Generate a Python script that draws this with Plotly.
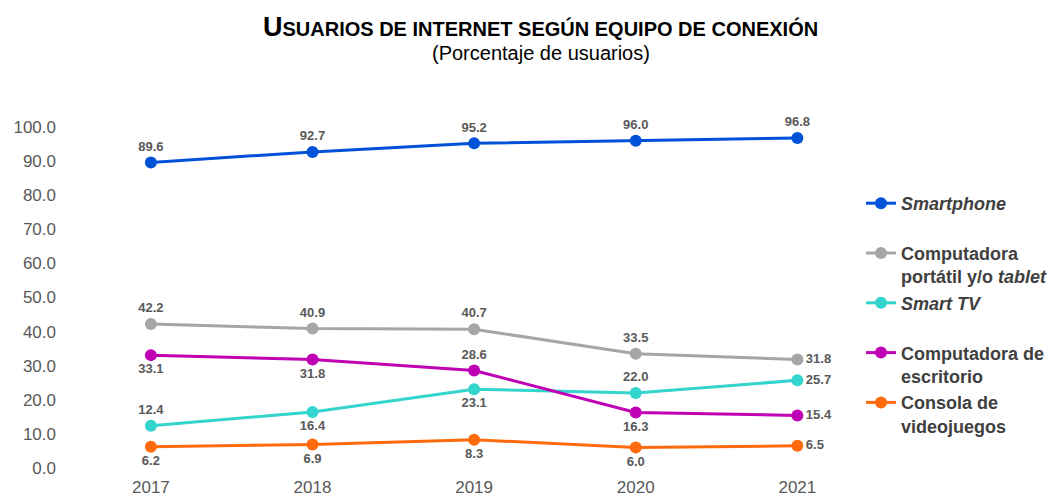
import plotly.graph_objects as go

years = [2017, 2018, 2019, 2020, 2021]
smartphone = [89.6, 92.7, 95.2, 96.0, 96.8]
portatil = [42.2, 40.9, 40.7, 33.5, 31.8]
smart_tv = [12.4, 16.4, 23.1, 22.0, 25.7]
escritorio = [33.1, 31.8, 28.6, 16.3, 15.4]
consola = [6.2, 6.9, 8.3, 6.0, 6.5]

names = [
    "<b><i>Smartphone</i></b><br> ",
    "<b>Computadora<br>portátil y/o <i>tablet</i></b>",
    "<b><i>Smart TV</i></b><br> ",
    "<b>Computadora de<br>escritorio</b>",
    "<b>Consola de<br>videojuegos</b>",
]
colors = ["#0052D9", "#A6A6A6", "#33D4CE", "#C000B4", "#FF6A0D"]
positions = [
    ["top center"] * 4 + ["top center"],
    ["top center"] * 4 + ["middle right"],
    ["top center", "bottom center", "bottom center", "top center", "middle right"],
    ["bottom center", "bottom center", "top center", "bottom center", "middle right"],
    ["bottom center"] * 4 + ["middle right"],
]
series = [smartphone, portatil, smart_tv, escritorio, consola]

FONT = "Liberation Sans, Arial, sans-serif"

fig = go.Figure()
for nm, vals, col, pos in zip(names, series, colors, positions):
    fig.add_trace(go.Scatter(
        x=years, y=vals, name=nm, mode="lines+markers+text",
        line=dict(color=col, width=3),
        marker=dict(color=col, size=12),
        text=[f"{v:.1f}" for v in vals],
        textposition=pos,
        texttemplate="<b>%{text}</b>",
        textfont=dict(family=FONT, size=13, color="#595959"),
        cliponaxis=False,
    ))

H, W = 498, 1062
pl, pr, pt, pb = 62, 200, 127, 30
pw, ph = W - pl - pr, H - pt - pb

def px(x):
    return (x - pl) / pw

def py(y):
    return 1 - (y - pt) / ph

fig.update_layout(
    width=W, height=H,
    paper_bgcolor="white", plot_bgcolor="white",
    margin=dict(l=pl, r=pr, t=pt, b=pb, autoexpand=False),
    font=dict(family=FONT, color="#595959"),
    showlegend=True,
    legend=dict(
        x=px(861), xanchor="left", y=py(185), yanchor="top",
        font=dict(size=18, color="#404040", family=FONT),
        valign="top", itemwidth=30, tracegroupgap=1,
        bgcolor="rgba(0,0,0,0)",
    ),
    annotations=[
        dict(text="<b><span style='font-size:27px'>U</span>SUARIOS DE INTERNET SEGÚN EQUIPO DE CONEXIÓN</b>",
             x=px(540), y=py(27), xref="paper", yref="paper", showarrow=False,
             xanchor="center", yanchor="middle",
             font=dict(family=FONT, size=20, color="black")),
        dict(text="(Porcentaje de usuarios)",
             x=px(541), y=py(53), xref="paper", yref="paper", showarrow=False,
             xanchor="center", yanchor="middle",
             font=dict(family=FONT, size=20, color="black")),
    ],
)

fig.update_xaxes(
    range=[2016.45, 2021.4], tickvals=years, ticktext=[str(y) for y in years],
    showgrid=False, zeroline=False, showline=False, ticks="", automargin=False,
    tickfont=dict(size=17, color="#595959"), ticklabelstandoff=7,
)
fig.update_yaxes(
    range=[0, 100], dtick=10, tickformat=".1f",
    showgrid=False, zeroline=False, showline=False, ticks="", automargin=False,
    tickfont=dict(size=17, color="#595959"), ticklabelstandoff=5,
)

fig.write_html("out.html", config={"displayModeBar": False},
               post_script="document.body.style.margin='0';")
